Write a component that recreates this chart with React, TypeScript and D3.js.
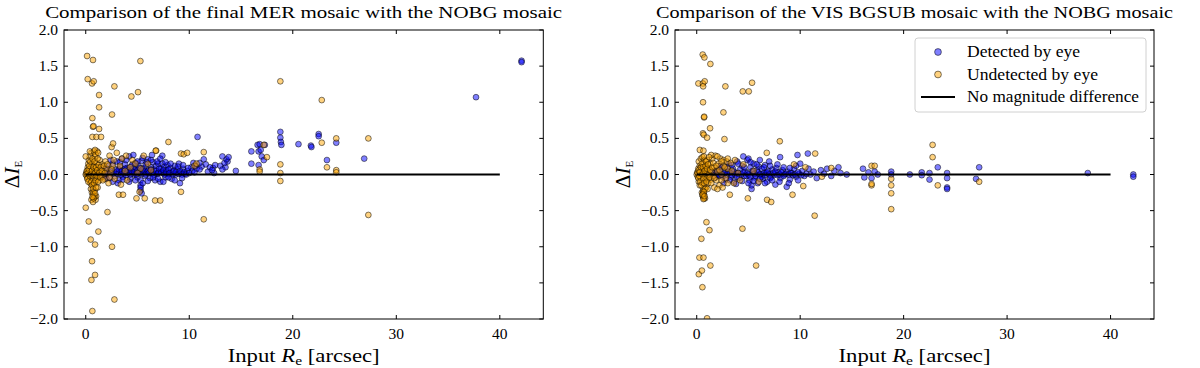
import React from "react";
import * as d3 from "d3";

const W = 1200;
const H = 368;

const xTicks = [0, 10, 20, 30, 40];
const yTicks = [2.0, 1.5, 1.0, 0.5, 0.0, -0.5, -1.0, -1.5, -2.0];

const leftTitle = "Comparison of the final MER mosaic with the NOBG mosaic";
const rightTitle = "Comparison of the VIS BGSUB mosaic with the NOBG mosaic";

const legendLabels = ["Detected by eye", "Undetected by eye", "No magnitude difference"];
const legendWidths = [113, 131, 172];

// [x, y] pairs
const leftDetected: [number, number][] = [
  [1.0, 0.05], [1.3, -0.04], [1.6, 0.1], [1.8, 0.0],
  [1.2, 0.02], [1.5, 0.05], [1.7, -0.03], [1.9, 0.08], [2.0, 0.0], [2.2, 0.12], [2.3, -0.05], [2.5, 0.04],
  [2.6, 0.15], [2.8, -0.02], [2.9, 0.07], [3.0, 0.18], [3.1, 0.01], [3.2, -0.08], [3.3, 0.1], [3.4, 0.03],
  [3.5, 0.22], [3.6, -0.03], [3.7, 0.06], [3.8, 0.14], [3.9, -0.01], [4.0, 0.09], [4.1, 0.02], [4.2, 0.25],
  [4.3, -0.06], [4.4, 0.11], [4.5, 0.04], [4.6, 0.27], [4.7, 0.0], [4.8, 0.16], [4.9, 0.07], [5.0, -0.04],
  [5.1, 0.12], [5.2, 0.02], [5.3, -0.15], [5.3, -0.22], [5.4, 0.19], [5.5, 0.05], [5.6, 0.09], [5.7, -0.02],
  [5.8, 0.14], [5.9, 0.03], [6.0, 0.21], [6.1, 0.06], [6.2, -0.05], [6.3, 0.1], [6.4, 0.02], [6.4, 0.27],
  [6.5, 0.17], [6.6, 0.07], [6.7, -0.08], [6.8, 0.12], [6.9, 0.01], [7.0, 0.15], [7.1, 0.04], [7.2, -0.1],
  [7.3, 0.08], [7.4, 0.15], [7.4, 0.26], [7.5, 0.02], [7.6, 0.11], [7.7, -0.04], [7.8, 0.06], [7.9, 0.13],
  [8.0, 0.01], [8.2, 0.09], [8.3, -0.06], [8.4, 0.04], [8.6, 0.12], [8.7, 0.0], [8.8, 0.07], [9.0, 0.15],
  [9.1, -0.12], [9.2, 0.03], [9.4, 0.08], [9.6, 0.01], [9.8, 0.05], [10.2, 0.1], [10.4, 0.16], [10.6, 0.12],
  [2.1, 0.03], [2.4, 0.06], [2.7, 0.02], [3.0, 0.04], [3.2, 0.07], [3.4, 0.0], [3.5, 0.05], [3.7, 0.02],
  [3.8, 0.08], [4.0, 0.03], [4.1, 0.06], [4.3, 0.0], [4.4, 0.05], [4.6, 0.08], [4.7, 0.03], [4.9, 0.0],
  [5.0, 0.06], [5.1, 0.03], [5.2, 0.09], [5.4, 0.01], [5.5, 0.07], [5.7, 0.04], [5.8, 0.0], [6.0, 0.05],
  [6.1, 0.02], [6.3, 0.07], [6.5, 0.03], [6.6, 0.0], [6.8, 0.05], [7.0, 0.02], [7.1, 0.08], [7.3, 0.03],
  [7.5, 0.06], [7.6, 0.0], [7.8, 0.03], [8.0, 0.07], [8.1, 0.02], [8.4, 0.0], [8.5, 0.05], [8.7, 0.03],
  [9.0, 0.01], [9.1, 0.05], [9.3, 0.0], [9.5, 0.03], [9.7, 0.0],
  [2.0, -0.06], [2.6, -0.1], [3.1, -0.12], [3.6, -0.07], [4.2, -0.1], [4.8, -0.08], [5.3, -0.08], [5.3, -0.18],
  [5.4, -0.26], [5.5, -0.12], [6.0, -0.09], [6.5, -0.04], [7.0, -0.06], [7.5, -0.1], [8.0, -0.04], [8.6, -0.08],
  [9.3, -0.05],
  [2.4, 0.2], [3.3, 0.17], [3.9, 0.2], [4.5, 0.14], [5.0, 0.18], [5.5, 0.23], [5.9, 0.17], [6.3, 0.2],
  [6.9, 0.18], [7.2, 0.22], [7.7, 0.17], [8.2, 0.15], [8.9, 0.11], [9.4, 0.13], [9.9, 0.09], [10.3, 0.05],
  [10.7, 0.08], [11.2, 0.11], [11.8, 0.04], [12.4, 0.02], [10.0, 0.02], [10.5, 0.03], [11.0, 0.16], [12.3, 0.09],
  [13.0, 0.12], [13.5, 0.1], [13.7, 0.18],
  [10.8, 0.52], [11.0, 0.07], [11.4, 0.21], [11.6, 0.14], [12.0, 0.1], [12.2, 0.06], [12.5, 0.13], [13.2, 0.25],
  [13.4, 0.16], [13.6, 0.21], [13.8, 0.24], [13.2, 0.07], [14.5, 0.05], [16.0, 0.32], [16.0, 0.15], [16.6, 0.41],
  [16.8, 0.42], [16.7, 0.32], [16.9, 0.34], [17.3, 0.41], [17.0, 0.25], [16.7, 0.13], [17.2, 0.2], [18.8, 0.59],
  [18.8, 0.51], [18.85, 0.45], [18.9, 0.41], [20.55, 0.42], [21.75, 0.4], [21.8, 0.38], [22.5, 0.56], [22.5, 0.53],
  [24.2, 0.44], [23.3, 0.2], [26.9, 0.22], [37.7, 1.07], [42.1, 1.575], [42.1, 1.555],
];

const leftUndetected: [number, number][] = [
  [0.0, 0.0], [0.05, 0.02], [0.1, -0.02], [0.15, 0.05], [0.2, 0.1], [0.2, -0.05], [0.25, 0.15], [0.3, 0.0],
  [0.3, 0.2], [0.35, -0.08], [0.4, 0.05], [0.4, 0.25], [0.45, -0.12], [0.5, 0.1], [0.5, -0.2], [0.55, 0.02],
  [0.55, 0.3], [0.6, -0.25], [0.6, 0.15], [0.65, -0.05], [0.65, 0.07], [0.7, -0.28], [0.7, 0.2], [0.75, 0.0],
  [0.75, -0.15], [0.8, 0.12], [0.8, -0.32], [0.85, 0.04], [0.85, -0.22], [0.9, 0.25], [0.9, -0.1], [0.95, 0.08],
  [0.95, -0.35], [1.0, 0.0], [1.0, -0.3], [1.05, 0.16], [1.1, -0.05], [1.1, 0.32], [1.15, -0.18], [1.2, 0.1],
  [1.25, 0.03], [1.3, -0.08], [1.35, 0.2], [1.4, 0.06], [1.5, -0.02], [1.6, 0.14], [1.7, 0.04], [1.8, -0.06],
  [1.9, 0.18], [2.0, 0.08], [2.2, -0.12], [2.3, 0.26], [2.4, 0.02], [2.6, 0.12], [2.8, -0.06], [3.0, 0.3],
  [3.2, -0.28], [3.4, -0.14], [3.6, -0.28], [3.8, 0.05], [4.0, -0.08], [4.5, 0.2], [4.9, -0.33], [5.2, -0.24],
  [5.3, 0.08], [5.7, -0.33], [6.0, 0.15], [6.7, -0.36], [7.2, -0.36], [6.8, 0.33], [7.99, 0.45], [9.2, -0.24],
  [9.2, 0.29], [9.47, 0.28], [9.8, 0.3], [11.4, 0.31], [10.5, 0.12], [10.7, 0.15], [2.5, 0.38], [2.64, 0.43],
  [0.0, 0.25], [0.4, 0.32], [0.8, 0.32], [6.76, 0.33],
  [0.1, 0.05], [0.15, -0.06], [0.2, 0.02], [0.25, -0.1], [0.3, 0.07], [0.35, 0.12], [0.4, -0.02], [0.45, 0.18],
  [0.5, 0.0], [0.55, -0.1], [0.6, 0.05], [0.6, -0.15], [0.65, 0.22], [0.7, -0.02], [0.7, -0.2], [0.75, 0.1],
  [0.75, -0.25], [0.8, 0.0], [0.8, -0.12], [0.85, 0.18], [0.85, -0.3], [0.9, 0.02], [0.9, -0.26], [0.95, -0.08],
  [0.95, 0.28], [1.0, 0.1], [1.0, -0.18], [1.05, -0.02], [1.1, 0.06], [1.15, 0.22], [1.2, -0.1], [1.25, 0.13],
  [1.3, 0.02], [1.4, -0.04], [1.45, 0.1], [1.55, 0.05], [1.65, -0.08], [1.75, 0.12], [1.85, 0.02], [2.1, 0.14],
  [2.3, -0.04], [2.5, 0.07], [2.7, 0.2], [3.3, 0.12], [3.5, 0.22], [3.9, 0.26], [4.3, 0.1], [4.8, 0.15],
  [5.6, 0.26], [6.3, 0.06], [5.0, 0.02], [0.55, -0.35], [0.7, -0.38], [0.75, -0.33], [0.65, -0.31], [0.9, 0.34],
  [1.2, 0.3],
  [0.13, 1.64], [0.7, 1.585], [5.28, 1.57], [0.19, 1.32], [0.61, 1.26], [0.77, 1.29], [2.77, 1.22], [1.29, 1.1],
  [4.41, 1.08], [5.05, 1.14], [1.29, 0.93], [2.54, 0.83], [0.64, 0.78], [0.7, 0.66], [0.75, 0.67], [1.29, 0.63],
  [0.64, 0.52], [1.03, 0.52], [1.48, 0.52],
  [0.0, -0.46], [0.29, -0.65], [2.1, -0.52], [1.22, -0.79], [0.48, -0.9], [0.9, -0.97], [2.54, -1.0], [0.61, -1.2],
  [0.9, -1.39], [0.55, -1.46], [2.77, -1.73], [0.64, -1.89], [11.4, -0.62],
  [16.8, 0.07], [16.8, 0.04], [17.2, 0.41], [17.5, 0.24], [18.8, 0.14], [18.8, 0.02], [18.8, -0.09],
  [18.8, 1.29], [22.8, 1.03], [22.8, 0.44], [23.3, 0.1], [24.2, 0.5], [24.2, 0.06], [24.2, 0.03], [27.3, 0.5],
  [27.3, -0.56],
];

const rightDetected: [number, number][] = [
  [1.0, 0.02], [1.3, -0.03], [1.7, 0.05], [1.9, 0.0],
  [1.5, 0.03], [1.8, -0.04], [2.0, 0.06], [2.2, -0.02], [2.4, 0.1], [2.6, 0.01], [2.8, -0.07], [3.0, 0.05],
  [3.1, 0.15], [3.3, -0.03], [3.5, 0.08], [3.6, -0.1], [3.8, 0.02], [3.9, 0.18], [4.1, -0.05], [4.2, 0.07],
  [4.4, 0.12], [4.5, 0.25], [4.6, -0.02], [4.7, 0.04], [4.9, 0.2], [5.0, 0.22], [5.1, -0.08], [5.2, 0.1],
  [5.3, -0.2], [5.3, -0.15], [5.4, 0.03], [5.5, 0.15], [5.6, -0.04], [5.8, 0.06], [5.9, -0.12], [6.0, 0.11],
  [6.2, 0.0], [6.3, 0.08], [6.4, -0.06], [6.6, 0.13], [6.7, 0.02], [6.8, -0.1], [6.9, 0.05], [7.0, 0.18],
  [7.2, -0.03], [7.3, 0.07], [7.5, 0.0], [7.6, -0.14], [7.7, 0.09], [7.9, 0.03], [8.06, 0.24], [8.1, -0.05],
  [8.3, 0.06], [8.5, 0.0], [8.7, -0.17], [8.8, 0.04], [9.0, -0.07], [9.2, 0.02], [9.4, 0.08], [9.6, -0.03],
  [9.74, 0.27], [9.9, 0.01], [10.2, 0.05], [10.4, -0.02], [10.74, 0.29], [10.8, 0.08], [11.0, 0.0], [11.3, 0.04],
  [2.1, 0.0], [2.3, 0.04], [2.5, -0.03], [2.7, 0.02], [2.9, 0.0], [3.2, 0.03], [3.4, -0.01], [3.6, 0.04],
  [3.7, 0.0], [3.9, -0.03], [4.0, 0.02], [4.3, 0.0], [4.5, 0.03], [4.8, -0.02], [4.9, 0.02], [5.0, 0.0],
  [5.2, -0.03], [5.4, 0.05], [5.6, 0.01], [5.7, -0.02], [5.9, 0.03], [6.1, 0.0], [6.3, -0.03], [6.5, 0.02],
  [6.6, -0.01], [6.8, 0.03], [7.0, 0.0], [7.1, -0.05], [7.4, 0.02], [7.6, 0.04], [7.8, -0.01], [8.0, 0.0],
  [8.2, 0.03], [8.4, -0.02], [8.6, 0.01], [8.9, 0.0], [9.1, 0.02], [9.3, -0.01], [9.5, 0.0], [9.8, 0.03],
  [10.1, -0.01], [10.6, 0.01],
  [2.3, 0.12], [2.9, 0.1], [3.4, 0.13], [4.0, 0.15], [4.6, 0.1], [5.2, 0.17], [5.8, 0.14], [6.1, 0.2],
  [6.5, 0.1], [7.1, 0.12], [7.8, 0.14], [8.4, 0.1], [9.0, 0.09], [9.6, 0.12], [10.0, 0.15],
  [2.6, -0.12], [3.2, -0.08], [3.8, -0.13], [4.4, -0.09], [5.0, -0.12], [5.5, -0.09], [6.1, -0.06], [6.6, -0.12],
  [7.3, -0.08], [8.0, -0.1], [8.9, -0.12], [9.8, -0.08],
  [11.6, -0.05], [12.0, 0.06], [12.3, 0.01], [12.6, 0.08], [13.0, -0.02], [13.3, 0.05], [13.7, 0.1], [13.9, 0.02],
  [14.5, 0.0], [16.07, 0.08], [16.2, -0.04], [16.6, 0.03], [16.9, -0.05], [17.2, 0.04], [17.5, 0.0], [18.8, 0.04],
  [18.8, 0.0], [20.6, 0.0], [21.75, 0.03], [21.75, -0.01], [22.5, 0.02], [22.5, -0.07], [23.3, 0.1], [24.2, 0.02],
  [24.2, -0.05], [24.2, -0.18], [24.2, -0.2], [27.3, 0.1], [27.0, -0.06], [37.8, 0.02], [42.2, 0.0], [42.2, -0.03],
];

const rightUndetected: [number, number][] = [
  [0.0, 0.0], [0.05, 0.03], [0.1, -0.03], [0.15, 0.08], [0.2, -0.1], [0.2, 0.18], [0.25, 0.04], [0.3, -0.15],
  [0.3, 0.12], [0.35, 0.0], [0.4, 0.22], [0.4, -0.05], [0.45, 0.1], [0.5, -0.25], [0.5, 0.05], [0.55, 0.24],
  [0.55, -0.12], [0.6, 0.02], [0.6, -0.3], [0.65, 0.15], [0.65, -0.2], [0.7, 0.08], [0.7, -0.28], [0.75, -0.02],
  [0.75, 0.2], [0.8, -0.33], [0.8, 0.1], [0.85, 0.0], [0.85, -0.08], [0.9, 0.06], [0.9, -0.18], [0.95, 0.12],
  [1.0, -0.05], [1.0, 0.2], [1.05, 0.03], [1.1, -0.12], [1.15, 0.09], [1.2, 0.0], [1.3, 0.15], [1.35, -0.07],
  [1.4, 0.05], [1.5, 0.22], [1.6, -0.02], [1.7, 0.1], [1.8, 0.26], [1.9, -0.08], [2.0, 0.04], [2.1, 0.15],
  [2.2, -0.15], [2.3, 0.22], [2.4, 0.0], [2.5, -0.18], [2.6, 0.12], [2.8, -0.05], [3.0, 0.08], [3.2, -0.28],
  [3.4, 0.05], [3.6, -0.12], [4.0, 0.02], [4.2, -0.08], [4.5, 0.14], [4.94, -0.33], [5.5, 0.05], [6.0, -0.1],
  [6.77, 0.3], [6.8, -0.35], [7.2, -0.38], [8.03, 0.46], [9.26, -0.28], [9.4, 0.14], [10.3, -0.16], [10.5, 0.1],
  [11.45, 0.29], [11.4, -0.57], [12.1, -0.03], [13.0, 0.09], [1.4, 0.27], [2.0, 0.25], [2.6, 0.2], [2.9, 0.18],
  [0.3, 0.34], [0.65, 0.33], [0.6, -0.3], [0.7, -0.33], [0.65, -0.26], [0.62, -0.23],
  [0.1, 0.02], [0.15, -0.05], [0.2, 0.06], [0.25, -0.02], [0.3, 0.03], [0.35, -0.1], [0.4, 0.1], [0.45, -0.15],
  [0.5, 0.15], [0.55, 0.0], [0.6, 0.1], [0.65, -0.06], [0.7, -0.12], [0.7, 0.25], [0.75, 0.05], [0.8, -0.2],
  [0.85, 0.12], [0.9, 0.18], [0.95, -0.1], [1.0, 0.08], [1.05, -0.2], [1.1, 0.14], [1.2, 0.24], [1.25, -0.04],
  [1.3, 0.06], [1.4, -0.12], [1.5, 0.1], [1.6, 0.16], [1.7, -0.05], [1.9, 0.12], [2.2, 0.06], [2.4, 0.18],
  [2.7, 0.1], [3.0, 0.22], [3.3, 0.16], [3.7, 0.2], [0.6, -0.27], [0.65, -0.34], [0.7, -0.24], [0.55, -0.28],
  [0.75, -0.3], [1.7, -0.18], [2.0, -0.2], [2.4, -0.08], [3.0, -0.12],
  [0.58, 1.66], [0.74, 1.62], [1.32, 1.53], [0.16, 1.26], [0.6, 1.26], [0.62, 1.22], [0.77, 1.29], [2.77, 1.22],
  [4.45, 1.15], [5.03, 1.15], [5.35, 1.27], [0.61, 1.0], [2.58, 0.86], [0.71, 0.79], [0.72, 0.8], [1.29, 0.64],
  [0.6, 0.57], [0.68, 0.55], [1.0, 0.51], [2.68, 0.49],
  [0.94, -0.66], [1.23, -0.77], [0.45, -0.89], [4.42, -0.75], [0.26, -1.15], [0.65, -1.15], [1.32, -1.26],
  [5.74, -1.26], [0.2, -1.38], [0.5, -1.33], [0.55, -1.56], [1.0, -1.99],
  [16.9, 0.12], [17.2, 0.12], [16.9, -0.15], [16.9, -0.13], [18.8, -0.06], [18.8, -0.15], [18.8, -0.26],
  [18.8, -0.48], [22.8, 0.41], [22.8, 0.24], [23.3, -0.15], [27.3, -0.1],
];

const refLine = [0, 40];

const FONT = "'Liberation Serif', 'DejaVu Serif', serif";
const TOP = 30;
const BOTTOM = 319;

type PanelProps = {
  id: string;
  left: number;
  right: number;
  title: string;
  det: [number, number][];
  und: [number, number][];
  legend: boolean;
};

const blueStyle = { fill: "#0000ff", fillOpacity: 0.5, stroke: "#000", strokeOpacity: 0.5, strokeWidth: 1 };
const orangeStyle = { fill: "#ffa500", fillOpacity: 0.5, stroke: "#000", strokeOpacity: 0.5, strokeWidth: 1 };

function Panel({ id, left, right, title, det, und, legend }: PanelProps) {
  const x = d3.scaleLinear().domain([-2.1, 44.2]).range([left, right]);
  const y = d3.scaleLinear().domain([-2, 2]).range([BOTTOM, TOP]);
  const cx = (left + right) / 2;
  const tl = 4;
  const r = 2.9;
  return (
    <g>
      <defs>
        <clipPath id={id}>
          <rect x={left} y={TOP} width={right - left} height={BOTTOM - TOP} />
        </clipPath>
      </defs>
      <g clipPath={`url(#${id})`}>
        {det.map((d, i) => (
          <circle key={"d" + i} cx={x(d[0])} cy={y(d[1])} r={r} style={blueStyle} />
        ))}
        {und.map((d, i) => (
          <circle key={"u" + i} cx={x(d[0])} cy={y(d[1])} r={r} style={orangeStyle} />
        ))}
        <line x1={x(refLine[0])} x2={x(refLine[1])} y1={y(0)} y2={y(0)} stroke="#000" strokeWidth={2} />
      </g>
      <rect x={left} y={TOP} width={right - left} height={BOTTOM - TOP} fill="none" stroke="#000" strokeWidth={1} />
      {xTicks.map((t) => (
        <g key={"x" + t}>
          <line x1={x(t)} x2={x(t)} y1={BOTTOM} y2={BOTTOM - tl} stroke="#000" />
          <line x1={x(t)} x2={x(t)} y1={TOP} y2={TOP + tl} stroke="#000" />
          <text x={x(t)} y={BOTTOM + 20} textAnchor="middle" fontSize={15.5} fontFamily={FONT}>
            {String(t)}
          </text>
        </g>
      ))}
      {yTicks.map((t) => (
        <g key={"y" + t}>
          <line x1={left} x2={left + tl} y1={y(t)} y2={y(t)} stroke="#000" />
          <line x1={right} x2={right - tl} y1={y(t)} y2={y(t)} stroke="#000" />
          <text x={left - 6} y={y(t) + 5} textAnchor="end" fontSize={15.5} fontFamily={FONT}>
            {d3.format(".1f")(t).replace("-", "\u2212")}
          </text>
        </g>
      ))}
      <text
        x={cx}
        y={18}
        textAnchor="middle"
        fontSize={17}
        fontFamily={FONT}
        textLength={517}
        lengthAdjust="spacingAndGlyphs"
      >
        {title}
      </text>
      <text
        x={cx}
        y={362}
        textAnchor="middle"
        fontSize={19}
        fontFamily={FONT}
        textLength={152}
        lengthAdjust="spacingAndGlyphs"
      >
        Input <tspan fontStyle="italic">R</tspan>
        <tspan fontSize={13} dy={3}>e</tspan>
        <tspan dy={-3}> [arcsec]</tspan>
      </text>
      <text
        transform={`translate(${left - 45},${y(0)}) rotate(-90)`}
        textAnchor="middle"
        fontSize={21}
        fontFamily={FONT}
      >
        Δ<tspan fontStyle="italic">I</tspan>
        <tspan fontSize={11} dy={3}>E</tspan>
      </text>
      {legend && (
        <g fontFamily={FONT} fontSize={16}>
          <rect x={915} y={38} width={231} height={74} rx={3} fill="#fff" fillOpacity={0.8} stroke="#d0d0d0" />
          <circle cx={938} cy={52} r={3.4} style={blueStyle} />
          <circle cx={938} cy={74.5} r={3.4} style={orangeStyle} />
          <line x1={921} x2={955} y1={97} y2={97} stroke="#000" strokeWidth={2} />
          {legendLabels.map((l, i) => (
            <text key={l} x={967} y={57 + i * 22.5} textLength={legendWidths[i]} lengthAdjust="spacingAndGlyphs">
              {l}
            </text>
          ))}
        </g>
      )}
    </g>
  );
}

export default function App() {
  return (
    <svg
      width={W}
      height={H}
      viewBox={`0 0 ${W} ${H}`}
      style={{ position: "absolute", left: 0, top: 0, background: "#fff" }}
    >
      <rect width={W} height={H} fill="#fff" />
      <Panel id="clipL" left={64} right={543.3} title={leftTitle} det={leftDetected} und={leftUndetected} legend={false} />
      <Panel id="clipR" left={675} right={1154} title={rightTitle} det={rightDetected} und={rightUndetected} legend={true} />
    </svg>
  );
}
